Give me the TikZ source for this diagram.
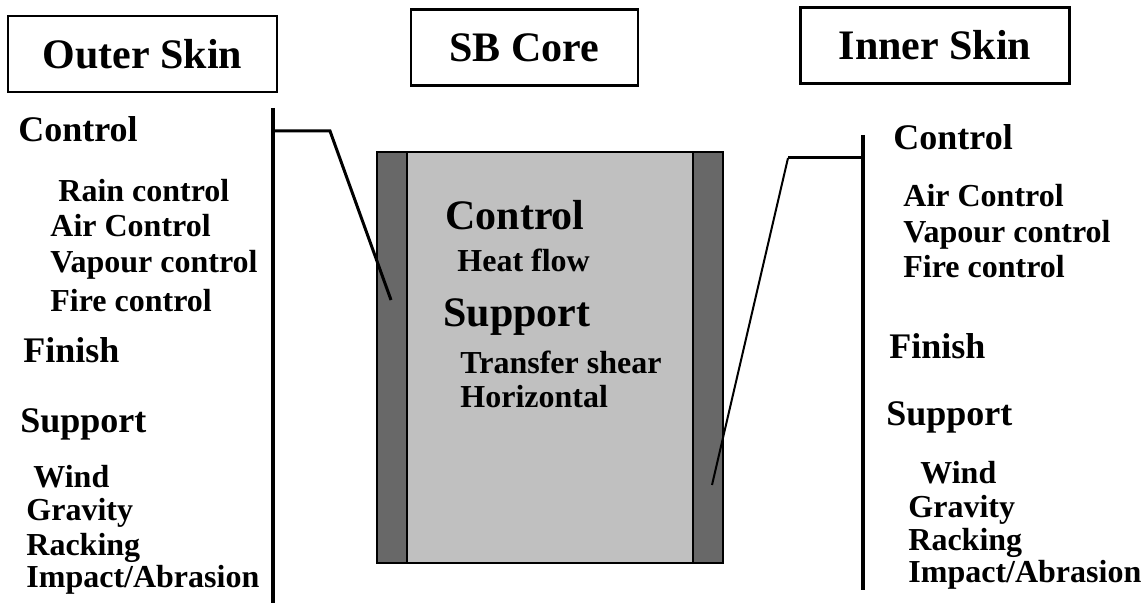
\documentclass[tikz,border=0pt]{standalone}
\usepackage{fontspec}
\setmainfont{Liberation Serif}
\definecolor{corelight}{RGB}{192,192,192}
\definecolor{skindark}{RGB}{104,104,104}
\begin{document}
\begin{tikzpicture}[x=0.5pt,y=-0.5pt,
	titlebox/.style={draw,line width=1.4pt,minimum width=134.5pt,minimum height=38pt,inner sep=0pt,font=\bfseries\fontsize{21}{25}\selectfont},
	head/.style={anchor=base west,inner sep=0pt,font=\bfseries\fontsize{18}{22}\selectfont},
	bighead/.style={anchor=base west,inner sep=0pt,font=\bfseries\fontsize{21}{25}\selectfont},
	item/.style={anchor=base west,inner sep=0pt,font=\bfseries\fontsize{16}{19}\selectfont},
	bar/.style={line width=1.6pt},
	lead/.style={line width=1.5pt}]
	\useasboundingbox (0,0) rectangle (1143,603);
	%titles
	\node[titlebox] (outer) at (142.5,54) {Outer Skin};
	\node[titlebox,minimum width=113.5pt] (core) at (524.5,47.5) {SB Core};
	\node[titlebox] (inner) at (935,45.5) {Inner Skin};
	%wall section
	\draw[line width=1pt,fill=corelight] (377,152) rectangle (723,563);
	\draw[line width=1pt,fill=skindark] (377,152) rectangle (407,563);
	\draw[line width=1pt,fill=skindark] (693,152) rectangle (723,563);
	%bars and leaders
	\coordinate (ltop) at (273,108);
	\coordinate (lbot) at (273,603);
	\coordinate (lfoot) at (273,131);
	\coordinate (lknee) at (330,131);
	\coordinate (lend) at (391,300);
	\coordinate (rtop) at (863,135);
	\coordinate (rbot) at (863,590);
	\coordinate (rfoot) at (863,158);
	\coordinate (rknee) at (788,158);
	\coordinate (rend) at (712,485);
	\draw[bar] (ltop)--(lbot);
	\draw[bar] (rtop)--(rbot);
	\draw[lead] (lfoot)--(lknee)--(lend);
	\draw[lead] (rfoot)--(rknee);
	\draw[line width=1pt] (rknee)--(rend);
	%outer skin
	\foreach \t/\x/\y [count=\i] in {Control/18/142,Finish/23/363,Support/20/432}
	\node[head] (lh\i) at (\x,\y) {\t};
	\foreach \t/\x/\y [count=\i] in {Rain control/58/202,Air Control/50/237,Vapour control/50/273,Fire control/50/312,Wind/33/487,Gravity/26/520,Racking/26/555,{Impact/Abrasion}/26/587}
	\node[item] (li\i) at (\x,\y) {\t};
	%core
	\node[bighead] (ch1) at (445,230) {Control};
	\node[bighead] (ch2) at (443,327) {Support};
	\foreach \t/\x/\y [count=\i] in {Heat flow/457/272,Transfer shear/460/373,Horizontal/460/408}
	\node[item] (ci\i) at (\x,\y) {\t};
	%inner skin
	\foreach \t/\x/\y [count=\i] in {Control/893/150,Finish/889/358,Support/886/425}
	\node[head] (rh\i) at (\x,\y) {\t};
	\foreach \t/\x/\y [count=\i] in {Air Control/903/207,Vapour control/903/243,Fire control/903/278,Wind/920/483,Gravity/908/517,Racking/908/550,{Impact/Abrasion}/908/582}
	\node[item] (ri\i) at (\x,\y) {\t};
\end{tikzpicture}
\end{document}
